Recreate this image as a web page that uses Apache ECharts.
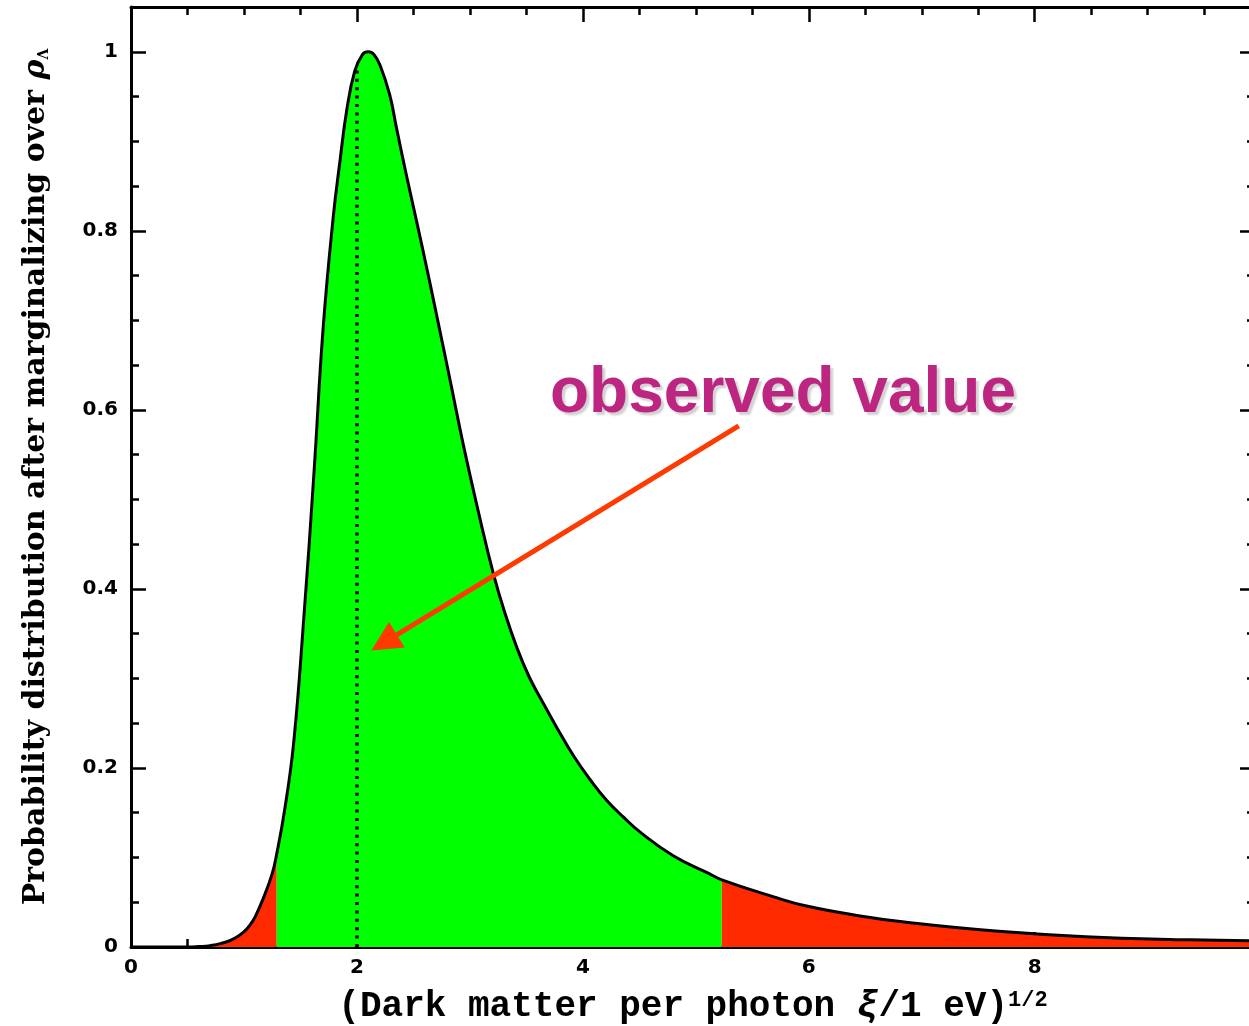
<!DOCTYPE html>
<html>
<head>
<meta charset="UTF-8">
<title>Dark matter per photon</title>
<script src="https://cdn.jsdelivr.net/npm/echarts@6/dist/echarts.min.js"></script>
<style>
    html, body { margin: 0; padding: 0; background: #fff; }
    #chart { width: 1249px; height: 1026px; }
</style>
</head>
<body>
<div id="chart"></div>
<script>
// curve: x = (xi/1 eV)^1/2, y = probability
const xs = [0, 0.5, 0.6, 0.7, 0.8, 0.9, 1.0, 1.05, 1.1, 1.17,
            1.25, 1.29, 1.36, 1.44, 1.53, 1.62, 1.70, 1.79, 1.85, 1.91,
            1.98, 2.05, 2.10, 2.15, 2.205, 2.29, 2.35, 2.44, 2.59, 2.71,
            2.83, 2.94, 3.09, 3.21, 3.31, 3.42, 3.52, 3.62, 3.77, 3.92,
            4.07, 4.21, 4.36, 4.51, 4.80, 5.10, 5.23, 5.69, 5.97, 6.44,
            6.90, 7.68, 8.45, 9.38, 9.95];
const ys = [0, 0, 0.0005, 0.0015, 0.004, 0.0085, 0.017, 0.024, 0.034, 0.054,
            0.082, 0.104, 0.153, 0.228, 0.368, 0.53, 0.69, 0.815, 0.878, 0.935,
            0.978, 0.997, 1.0, 0.997, 0.985, 0.952, 0.915, 0.861, 0.775, 0.703,
            0.63, 0.562, 0.478, 0.416, 0.373, 0.333, 0.303, 0.279, 0.245, 0.213,
            0.186, 0.164, 0.145, 0.128, 0.102, 0.083, 0.075, 0.056, 0.046, 0.035,
            0.027, 0.0175, 0.0115, 0.008, 0.0068];

// edges of the green (allowed) band
const lowCut = 1.29;
const highCut = 5.23;

// observed value marker and the arrow pointing at it
const observedX = 2.0;
const observedTop = 0.98;
const arrowFrom = [5.38, 0.582];
const arrowTo = [2.24, 0.34];

const xMin = 0, xMax = 9.95, xStep = 2;
const yMin = 0, yMax = 1.05, yStep = 0.2;

const pts = xs.map((x, i) => [x, ys[i]]);
const leftPart = pts.filter(p => p[0] <= lowCut);
const midPart = pts.filter(p => p[0] >= lowCut && p[0] <= highCut);
const rightPart = pts.filter(p => p[0] >= highCut);

const chart = echarts.init(document.getElementById('chart'));

const tickStyle = { color: '#000', width: 2.5 };
const labelFont = { color: '#000', fontFamily: 'DejaVu Sans', fontWeight: 'bold', fontSize: 20 };
const serif = { fontFamily: 'DejaVu Serif', fontWeight: 'bold', color: '#000' };
const mono = { fontFamily: 'Liberation Mono', fontWeight: 'bold', color: '#000' };

// frame axis: same scale on both sides, ticks pointing into the plot
function frameAxis(pos, min, max, step, extra) {
    return Object.assign({
        type: 'value', min: min, max: max, interval: step, position: pos,
        axisLine: { onZero: false, lineStyle: { color: '#000', width: 3 } },
        axisTick: { inside: true, length: 15, lineStyle: tickStyle },
        minorTick: { show: true, splitNumber: 4, length: 8, lineStyle: tickStyle },
        splitLine: { show: false },
        axisLabel: { show: false }
    }, extra || {});
}

function fill(data, color) {
    return {
        type: 'line', data: data, smooth: 0.45,
        showSymbol: false, lineStyle: { width: 0 },
        areaStyle: { color: color, opacity: 1 }, silent: true
    };
}

const option = {
    animation: false,
    grid: { left: 131, top: 7, right: -6, bottom: 79, outerBoundsMode: 'none' },
    xAxis: [
        frameAxis('bottom', xMin, xMax, xStep, {
            axisLabel: Object.assign({ margin: 11, showMaxLabel: false }, labelFont),
            name: '(Dark matter per photon {xi|ξ}/1 eV){sup|1/2}',
            nameLocation: 'middle', nameGap: 42,
            nameTextStyle: Object.assign({
                fontSize: 36,
                rich: {
                    xi: Object.assign({ fontSize: 36, fontStyle: 'italic' }, mono),
                    sup: Object.assign({ fontSize: 22, verticalAlign: 'top' }, mono)
                }
            }, mono)
        }),
        frameAxis('top', xMin, xMax, xStep)
    ],
    yAxis: [
        frameAxis('left', yMin, yMax, yStep, {
            axisLabel: Object.assign({ margin: 13, showMaxLabel: false }, labelFont),
            name: 'Probability distribution after marginalizing over {rho|ρ}{sub|Λ}',
            nameLocation: 'middle', nameRotate: 90, nameGap: 80,
            nameTextStyle: Object.assign({
                fontSize: 30,
                rich: {
                    rho: Object.assign({ fontSize: 30, fontStyle: 'italic' }, serif),
                    sub: Object.assign({ fontSize: 14, verticalAlign: 'bottom' }, serif)
                }
            }, serif)
        }),
        frameAxis('right', yMin, yMax, yStep)
    ],
    series: [
        fill(leftPart, '#ff2a00'),
        Object.assign(fill(midPart, '#00ff00'), {
            markLine: {
                silent: true, symbol: 'none', label: { show: false },
                lineStyle: { color: '#000', width: 3.5, type: [3, 5.4], cap: 'butt' },
                data: [[{ coord: [observedX, 0] }, { coord: [observedX, observedTop] }]]
            }
        }),
        fill(rightPart, '#ff2a00'),
        {
            type: 'line', data: pts, smooth: 0.45, showSymbol: false,
            lineStyle: { color: '#000', width: 3 }, silent: true,
            markLine: {
                silent: true, symbol: ['none', 'triangle'], symbolSize: 30, label: { show: false },
                lineStyle: { color: '#ff3a00', width: 5, type: 'solid' },
                itemStyle: { color: '#ff3a00' },
                data: [[{ coord: arrowFrom }, { coord: arrowTo }]]
            }
        }
    ],
    graphic: [{
        type: 'text', left: 550, top: 362, silent: true,
        style: {
            text: 'observed value', fill: '#bc2580',
            font: 'bold 64px "Liberation Sans", Arial, sans-serif',
            textShadowColor: 'rgba(0,0,0,0.18)', textShadowOffsetX: 3, textShadowOffsetY: 3, textShadowBlur: 2
        }
    }]
};

chart.setOption(option);
</script>
</body>
</html>
